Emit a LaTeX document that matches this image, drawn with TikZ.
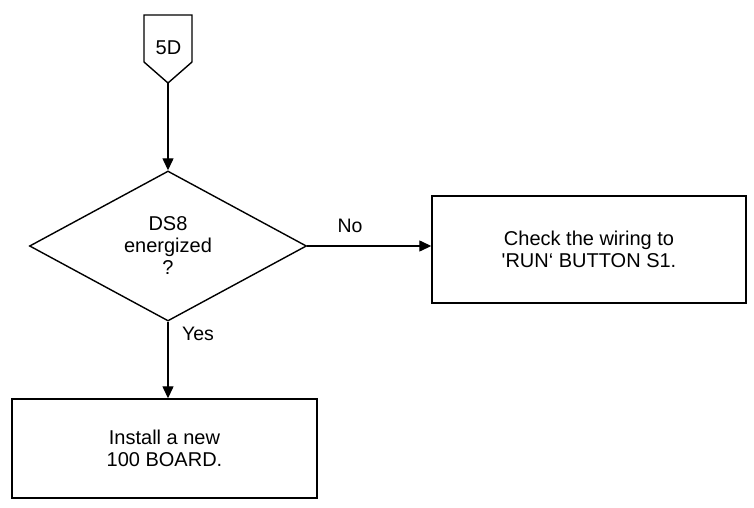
\documentclass[tikz,border=0pt]{standalone}
\usepackage{fontspec}
\setmainfont{Liberation Sans}
\usetikzlibrary{shapes.geometric,arrows.meta}
\begin{document}
\begin{tikzpicture}[x=1pt,y=-1pt,
  line width=1.4pt,
  txt/.style={font=\fontsize{20}{22}\selectfont, align=center},
  procbox/.style={draw, rectangle, inner sep=0pt, txt},
  decide/.style={draw, diamond, aspect=1.85, inner sep=0pt, minimum width=277pt, minimum height=150pt, txt},
  arr/.style={-{Triangle[length=12pt,width=11pt]}, line width=1.3pt},
  lbl/.style={font=\fontsize{19.5}{22}\selectfont, anchor=base, inner sep=0pt}
]
\useasboundingbox (0,0) rectangle (754,508);
\fill[white] (0,0) rectangle (754,508);

% off-page connector 5D
\coordinate (p1) at (144,15);
\coordinate (p2) at (192,15);
\coordinate (p3) at (192,62);
\coordinate (c5dtip) at (168,83);
\coordinate (p5) at (144,62);
\draw[line join=miter] (p1) -- (p2) -- (p3) -- (c5dtip) -- (p5) -- cycle;
\node[lbl, font=\fontsize{20}{22}\selectfont] (c5d) at (168.5,55) {5D};

% decision
\node[decide] (dec) at (168,246) {DS8\\energized\\?};

% process boxes
\node[procbox, minimum width=314pt, minimum height=107pt] (boxr) at (589,249.5) {Check the wiring to\\\textquotesingle RUN\textquoteleft{} BUTTON S1.};
\node[procbox, minimum width=305pt, minimum height=99pt] (boxb) at (164.5,448.5) {Install a new\\100 BOARD.};

% connectors
\draw[arr] (c5dtip) -- (dec.north);
\draw[arr] (dec.east) -- (dec.east -| boxr.west);
\draw[arr] (dec.south) -- (dec.south |- boxb.north);

% labels
\node[lbl] (lno) at (350,232) {No};
\node[lbl] (lyes) at (198,340) {Yes};
\end{tikzpicture}
\end{document}
